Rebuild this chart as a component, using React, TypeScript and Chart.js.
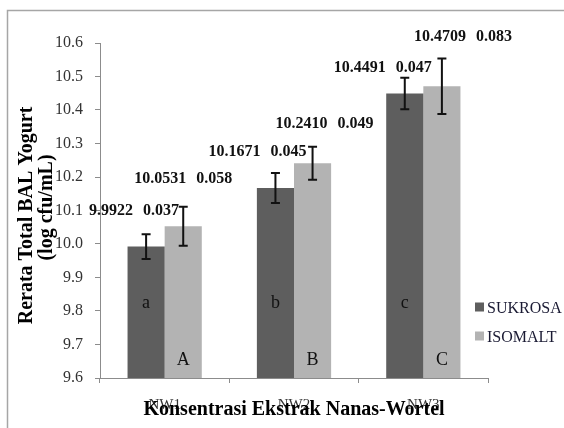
import React, { useEffect, useRef } from 'react';
import { Chart, registerables } from 'chart.js';

Chart.register(...registerables);

// ---- data ----
const categories = ['NW1', 'NW2', 'NW3'];
const seriesNames = ['SUKROSA', 'ISOMALT'];
const sukrosaValues = [9.9922, 10.1671, 10.4491];
const isomaltValues = [10.0531, 10.241, 10.4709];
const sukrosaSD = [0.037, 0.045, 0.047];
const isomaltSD = [0.058, 0.049, 0.083];
const sukrosaLetters = ['a', 'b', 'c'];
const isomaltLetters = ['A', 'B', 'C'];
const yMin = 9.6;
const yMax = 10.6;
const yStep = 0.1;
const xTitle = 'Konsentrasi Ekstrak Nanas-Wortel';
const yTitleLines = ['Rerata Total BAL Yogurt', '(log cfu/mL)'];

// ---- styles / placement ----
const COLORS = ['#5e5e5e', '#b3b3b3'];
const SERIF = '"Liberation Serif", "Times New Roman", serif';
// per series, per category: [dx, dy] of the value label from bar centre / error-bar top
const LABEL_OFFSETS = [
  [[-12, -23], [-18, -21], [-22, -10]],
  [[0, -28], [12, -23], [21, -22]],
];

const sds = [sukrosaSD, isomaltSD];
const letters = [sukrosaLetters, isomaltLetters];
const values = [sukrosaValues, isomaltValues];

const annotPlugin = {
  id: 'annot',
  beforeDraw(chart: any) {
    const ctx = chart.ctx;
    ctx.save();
    ctx.fillStyle = '#ffffff';
    ctx.fillRect(0, 0, chart.width, chart.height);
    ctx.strokeStyle = '#a6a6a6';
    ctx.lineWidth = 1.5;
    ctx.strokeRect(7.5, 10.5, chart.width + 20, chart.height + 20);
    ctx.restore();
  },
  afterDatasetsDraw(chart: any) {
    const ctx = chart.ctx;
    const ys = chart.scales.y;
    const xs = chart.scales.x;
    const area = chart.chartArea;
    ctx.save();
    chart.data.datasets.forEach((ds: any, di: number) => {
      const meta = chart.getDatasetMeta(di);
      meta.data.forEach((bar: any, i: number) => {
        const v = values[di][i];
        const sd = sds[di][i];
        const x = bar.x;
        const yt = ys.getPixelForValue(v + sd);
        const yb = ys.getPixelForValue(v - sd);
        // error bar
        ctx.strokeStyle = '#111';
        ctx.lineWidth = 2;
        ctx.beginPath();
        ctx.moveTo(x, yt);
        ctx.lineTo(x, yb);
        ctx.moveTo(x - 4.5, yt);
        ctx.lineTo(x + 4.5, yt);
        ctx.moveTo(x - 4.5, yb);
        ctx.lineTo(x + 4.5, yb);
        ctx.stroke();
        // letters
        ctx.fillStyle = '#111';
        ctx.font = `18px ${SERIF}`;
        ctx.textAlign = 'center';
        ctx.textBaseline = 'alphabetic';
        const ly = di === 0 ? area.bottom - 70 : area.bottom - 13;
        ctx.fillText(letters[di][i], x, ly);
        // value labels
        const [dx, dy] = LABEL_OFFSETS[di][i];
        ctx.font = `bold 16px ${SERIF}`;
        const t1 = v.toFixed(4);
        const t2 = sd.toFixed(3);
        const w1 = ctx.measureText(t1).width;
        const w2 = ctx.measureText(t2).width;
        const gap = 10;
        const total = w1 + gap + w2;
        const cx = x + dx;
        const cy = yt + dy;
        ctx.fillStyle = '#111';
        ctx.textAlign = 'left';
        ctx.textBaseline = 'middle';
        ctx.fillText(t1, cx - total / 2, cy);
        ctx.fillText(t2, cx - total / 2 + w1 + gap, cy);
      });
    });

    // x tick labels
    ctx.fillStyle = '#333';
    ctx.font = `15px ${SERIF}`;
    ctx.textAlign = 'center';
    ctx.textBaseline = 'alphabetic';
    categories.forEach((c, i) => {
      ctx.fillText(c, xs.getPixelForValue(i), area.bottom + 31);
    });

    // x title
    ctx.fillStyle = '#000';
    ctx.font = `bold 20px ${SERIF}`;
    ctx.fillText(xTitle, (area.left + area.right) / 2, area.bottom + 37);

    // y title
    const yMid = (area.top + area.bottom) / 2;
    ctx.save();
    ctx.translate(32, yMid + 5);
    ctx.rotate(-Math.PI / 2);
    ctx.fillText(yTitleLines[0], 0, 0);
    ctx.restore();
    ctx.save();
    ctx.translate(52, yMid - 3);
    ctx.rotate(-Math.PI / 2);
    ctx.fillText(yTitleLines[1], 0, 0);
    ctx.restore();

    // legend
    const legX = area.right - 13;
    const legY = [area.bottom - 71, area.bottom - 42];
    seriesNames.forEach((name, i) => {
      ctx.fillStyle = COLORS[i];
      ctx.fillRect(legX, legY[i] - 4.5, 9, 9);
      ctx.fillStyle = '#1a1a33';
      ctx.font = `16px ${SERIF}`;
      ctx.textAlign = 'left';
      ctx.textBaseline = 'alphabetic';
      ctx.fillText(name, legX + 12, legY[i] + 6);
    });
    ctx.restore();
  },
};

export default function App() {
  const ref = useRef<HTMLCanvasElement | null>(null);
  useEffect(() => {
    if (!ref.current) return;
    const chart = new Chart(ref.current, {
      type: 'bar',
      data: {
        labels: categories,
        datasets: [
          {
            label: seriesNames[0],
            data: sukrosaValues,
            backgroundColor: COLORS[0],
            categoryPercentage: 0.574,
            barPercentage: 1,
          },
          {
            label: seriesNames[1],
            data: isomaltValues,
            backgroundColor: COLORS[1],
            categoryPercentage: 0.574,
            barPercentage: 1,
          },
        ],
      },
      options: {
        animation: false,
        responsive: false,
        layout: { padding: { left: 0, top: 43, right: 76, bottom: 0 } },
        plugins: {
          legend: { display: false },
          tooltip: { enabled: false },
          title: { display: false },
        },
        scales: {
          x: {
            grid: {
              offset: true,
              drawOnChartArea: false,
              drawTicks: true,
              tickLength: 5,
              color: '#8c8c8c',
            },
            border: { display: true, color: '#8c8c8c', width: 1 },
            ticks: { display: false },
            afterFit: (s: any) => {
              s.height = 50;
            },
          },
          y: {
            min: yMin,
            max: yMax,
            grid: {
              drawOnChartArea: false,
              drawTicks: true,
              tickLength: 5,
              color: '#8c8c8c',
            },
            border: { display: true, color: '#8c8c8c', width: 1 },
            ticks: {
              stepSize: yStep,
              padding: 12,
              color: '#333',
              font: { family: SERIF, size: 16 },
              callback: (v: any) => Number(v).toFixed(1),
            },
            afterFit: (s: any) => {
              s.width = 100;
            },
          },
        },
      },
      plugins: [annotPlugin],
    });
    return () => chart.destroy();
  }, []);
  return (
    <div style={{ position: 'fixed', left: 0, top: 0, width: 564, height: 428, background: '#fff' }}>
      <canvas ref={ref} width={564} height={428} style={{ display: 'block' }} />
    </div>
  );
}
